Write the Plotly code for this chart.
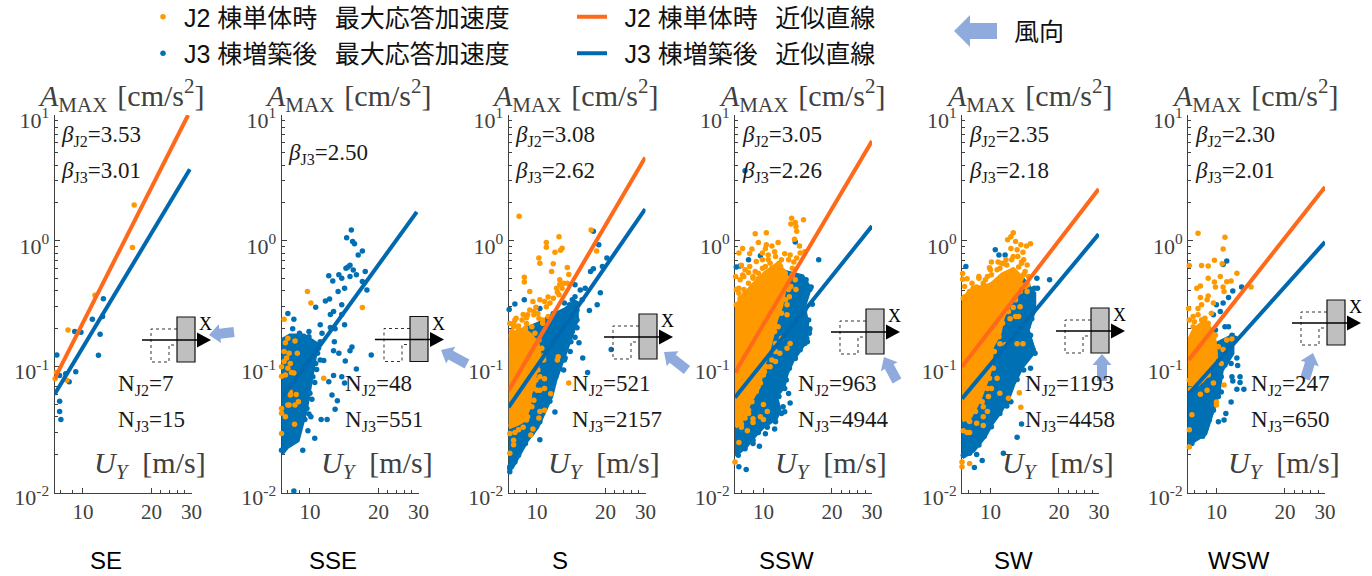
import plotly.graph_objects as go

W, H = 1372, 576
ORANGE = "#FF9900"
BLUE = "#0070B5"
ORANGE_LINE = "#FF6A1A"
BLUE_LINE = "#0068AE"
ARROW = "#8FAADC"
GREY = "#404040"

directions = ["SE", "SSE", "S", "SSW", "SW", "WSW"]
beta_j2 = ["3.53", None, "3.08", "3.05", "2.35", "2.30"]
beta_j3 = ["3.01", "2.50", "2.62", "2.26", "2.18", "2.01"]
n_j2 = [7, 48, 521, 963, 1193, 247]
n_j3 = [15, 551, 2157, 4944, 4458, 650]
x_ticks = [10, 20, 30]
x_minor = [8, 9, 22, 24, 26, 28]
y_ticks = [0.01, 0.1, 1, 10]
y_labels = ["10<sup>-2</sup>", "10<sup>-1</sup>", "10<sup>0</sup>", "10<sup>1</sup>"]
y_minor = [m * d for d in (0.01, 0.1, 1) for m in range(2, 10)]

# fitted lines: (U start, U end), (A start, A end)
fit_j2_u = [[7.5, 29], None, [7.5, 29.9], [7.5, 30], [7.5, 29.9], [7.55, 30]]
fit_j2_a = [[0.08, 10], None, [0.0645, 4.6], [0.09, 6.2], [0.1, 2.58], [0.113, 2.68]]
fit_j3_u = [[7.5, 29.5], [7.5, 29.5], [7.5, 29.9], [7.5, 30], [7.5, 29.9], [7.55, 30]]
fit_j3_a = [[0.06, 3.7], [0.0555, 1.7], [0.0475, 1.79], [0.057, 1.31], [0.0557, 1.13], [0.0606, 0.98]]

# ---- SE
se_j2_u = [16.8, 16.5, 11.3, 8.6, 8.5, 7.55, 7.65]
se_j2_a = [1.93, 0.885, 0.37, 0.196, 0.078, 0.08, 0.09]
se_j3_u = [7.68, 12.3, 11, 11.9, 11.7, 9.2, 9.8, 9.3, 8.4, 7.9, 8.7, 7.9, 7.9, 8.0, 12.2]
se_j3_a = [0.124, 0.346, 0.238, 0.181, 0.123, 0.19, 0.188, 0.091, 0.088, 0.085, 0.076, 0.053, 0.044, 0.038, 0.25]

# ---- SSE
sse_j2_u = [9.75, 10.1, 17, 7.7, 11.5, 8.56, 7.5, 8, 7.8, 8.6, 7.7, 8.1, 8.8, 7.9, 7.7, 8.2, 7.5, 8, 8.5, 8.3, 7.5, 7.8,
            8.2, 8.2, 8.7, 8, 8.6, 8.9, 7.5, 7.5, 7.8, 8.1]
sse_j2_a = [0.395, 0.32, 0.295, 0.238, 0.081, 0.0348, 0.0295, 0.168, 0.155, 0.16, 0.132, 0.128, 0.128, 0.117, 0.11,
            0.106, 0.1, 0.097, 0.089, 0.09, 0.084, 0.086, 0.063, 0.0595, 0.06, 0.0495, 0.0495, 0.0526, 0.0465, 0.0427, 0.04, 0.0495]
sse_j3_u = [15.2, 14.5, 15.4, 15.7, 17, 16.3, 15, 14.7, 14.4, 15.5, 16, 13.4, 12.1, 13.8, 15, 12.6, 17.5, 17, 17.8, 14.2,
            13.3, 12.2, 11.7, 13.8, 10.6, 8, 8.5, 12.7, 12.3, 13.8, 11.1, 8.4, 12.3, 12.9, 14.2, 9.9, 11.3, 12.8, 15.3, 15,
            18.6, 12.7, 13.4, 11.1, 11.5, 14.3, 16, 12.7, 13.8, 12.1, 14.2, 12.5, 13.2, 12.9, 10.1, 11.2, 11.9, 9.8, 10.5,
            9.3, 8.5,
            7.5, 7.8, 8.2, 8.9, 8.6, 9.7, 10, 10.3, 10.6, 10.8, 10.4, 11.1, 9.9, 9, 8.3, 7.7, 10.7, 10.5, 10.9, 10.2, 9.9, 9.5]
sse_j3_a = [1.22, 1.06, 0.99, 0.95, 0.83, 0.77, 0.64, 0.62, 0.606, 0.587, 0.537, 0.537, 0.527, 0.505, 0.52, 0.48, 0.57,
            0.475, 0.407, 0.42, 0.395, 0.345, 0.333, 0.31, 0.296, 0.265, 0.238, 0.274, 0.26, 0.26, 0.215, 0.2, 0.205, 0.2,
            0.215, 0.19, 0.184, 0.158, 0.143, 0.134, 0.124, 0.134, 0.128, 0.113, 0.112, 0.111, 0.096, 0.085, 0.083, 0.076,
            0.074, 0.0595, 0.0537, 0.0458, 0.04, 0.038, 0.038, 0.031, 0.027, 0.0217, 0.0103,
            0.0217, 0.026, 0.029, 0.0333, 0.0278, 0.0465, 0.0615, 0.083, 0.106, 0.128, 0.144, 0.158, 0.173, 0.184, 0.173, 0.163,
            0.095, 0.075, 0.14, 0.055, 0.042, 0.038]
sse_j3_cloud_u = [7.5, 7.9, 8.17, 9.4, 10.7, 10.4, 10.1, 9.8, 9.6, 9.2, 8.8, 7.9, 7.5]
sse_j3_cloud_a = [0.16, 0.17, 0.175, 0.175, 0.15, 0.113, 0.083, 0.065, 0.048, 0.0354, 0.026, 0.023, 0.0204]

# ---- S
s_j2_u = [8.35, 17.3, 12.5, 11, 11, 12.9, 12.7, 12, 10.2, 10.3, 11.8, 11.6, 18.3, 8.8, 8.8, 13.6, 13.8, 12.6, 12.6, 13.1,
          12.2, 12.3, 9.3, 11.2, 10.3, 9.6, 10.8, 9.9, 9.3, 8.7, 9, 9.7, 10.2, 10.6, 8, 7.6, 7.9, 8.3, 9, 10.7, 10.7, 12.4,
          12.3, 10.3, 10.8, 13.8, 10.3, 10.8, 11.5, 9.7, 10.8, 10.3, 10.2, 9.6, 9.4, 8, 7.9, 7.9, 7.6, 9,
          7.75, 8.3, 8.9, 9.5, 9.8, 10.2, 10.5, 10.3, 10.1, 9.9, 10, 9.7, 9.5, 9.1, 8.7, 8.3, 7.6,
          8.1, 8.6, 9.1, 9.7, 10.1, 11, 11.4, 11.8, 12.5, 12.9, 13.6, 10.6, 11.2, 7.9]
s_j2_a = [1.57, 1.22, 1.08, 0.97, 0.89, 0.874, 0.84, 0.81, 0.73, 0.664, 0.656, 0.57, 0.83, 0.514, 0.47, 0.614, 0.54, 0.49,
          0.45, 0.46, 0.42, 0.39, 0.395, 0.357, 0.34, 0.33, 0.33, 0.296, 0.282, 0.26, 0.245, 0.258, 0.242, 0.235, 0.235,
          0.22, 0.208, 0.21, 0.22, 0.122, 0.113, 0.12, 0.113, 0.083, 0.08, 0.074, 0.065, 0.067, 0.061, 0.067, 0.045, 0.044,
          0.039, 0.032, 0.0287, 0.03, 0.026, 0.024, 0.0205, 0.0377,
          0.19, 0.196, 0.202, 0.208, 0.184, 0.163, 0.14, 0.113, 0.094, 0.0785, 0.065, 0.054, 0.048, 0.04, 0.033, 0.0315, 0.0295,
          0.242, 0.235, 0.258, 0.274, 0.265, 0.3, 0.32, 0.35, 0.372, 0.42, 0.46, 0.221, 0.25, 0.221]
s_j2_cloud_u = [7.5, 7.9, 8.7, 9.3, 10, 10.2, 10, 9.7, 9.7, 9.3, 9.2, 8.7, 8.2, 7.6, 7.5]
s_j2_cloud_a = [0.17, 0.184, 0.196, 0.179, 0.153, 0.128, 0.1, 0.083, 0.0735, 0.0615, 0.048, 0.0377, 0.0354, 0.0332, 0.0332]
s_j3_u = [17.7, 18.7, 20.3, 19.4, 17.2, 17.7, 16.3, 14.7, 15.5, 14.7, 18.4, 17, 15.8, 13.9, 8.8, 7.55, 8, 10.3, 15, 14.7,
          15.3, 14, 15.9, 16.7, 13.1, 10.3, 12, 11.3, 21.2, 13.2, 14.7, 13.2, 7.6, 7.6, 19,
          15, 14.3, 14.1, 13.4, 13.3, 12.6, 12.1, 11.6, 11.5, 11.4, 10.7, 10.3, 9.5, 8.9, 8.3, 8, 7.6,
          10.7, 11.4, 12.3, 13.2, 13.8, 14.3, 15, 13.6, 11.8]
s_j3_a = [1.19, 0.93, 0.73, 0.625, 0.57, 0.6, 0.42, 0.447, 0.407, 0.36, 0.31, 0.28, 0.34, 0.31, 0.34, 0.285, 0.315, 0.29,
          0.204, 0.171, 0.155, 0.132, 0.117, 0.09, 0.094, 0.0263, 0.0437, 0.0545, 0.137, 0.113, 0.208, 0.184, 0.0146, 0.016, 0.386,
          0.235, 0.19, 0.158, 0.14, 0.117, 0.097, 0.083, 0.069, 0.061, 0.053, 0.047, 0.0365, 0.0295, 0.0245, 0.0198, 0.0175, 0.0155,
          0.196, 0.235, 0.235, 0.32, 0.265, 0.34, 0.282, 0.235, 0.265]
s_j3_cloud_u = [7.5, 8.5, 10.3, 11.5, 13.2, 14.9, 14.9, 13.8, 13.2, 12.6, 12, 11.5, 10.8, 10, 9, 8.4, 7.75, 7.5]
s_j3_cloud_a = [0.128, 0.19, 0.22, 0.25, 0.28, 0.329, 0.235, 0.163, 0.128, 0.1, 0.0785, 0.058, 0.0455, 0.0333, 0.026,
                0.0205, 0.016, 0.016]

# ---- SSW
ssw_j2_u = [13.3, 15, 13.8, 13.2, 13.9, 14, 13.7, 14.4, 14.5, 15.2, 9.2, 10.3, 9.5, 11.6, 10.3, 10.9, 10.2, 11.2, 8.1, 7.8,
            8.9, 8.7, 9.9, 10.5, 11.3, 12.4, 13.1, 14, 13.6, 7.55, 8, 8.1, 8.2, 8.6, 9.2, 9.5, 7.8, 7.6, 7.9, 8.3, 13.8, 13.9,
            12.7, 12.7, 12, 11.3, 13.1, 12.7, 11.3, 10.1, 9.7, 10.7, 10, 10.4, 9, 9, 9.7, 10, 8, 8.5, 8.6, 7.8, 7.5, 10.2, 11.8,
            8.3, 9, 9.9, 10.7, 11.9, 12.9, 12.9, 12.5, 12, 11.6, 11.2, 11.3, 10.9, 10.3, 10, 9.7, 9.3, 8.9, 8.6, 8.3, 8, 7.8,
            8.3, 8.7, 9.3, 9.9, 10.5, 11.7, 12, 12.9, 13.4, 10.2, 10.9, 9, 8.6, 8.2, 7.9, 7.8, 7.6, 9.5, 11.3, 13.4, 13.2, 13, 12.5]
ssw_j2_a = [1.51, 1.47, 1.4, 1.36, 1.3, 1.19, 1.03, 0.91, 0.8, 0.82, 1.14, 1.16, 0.97, 0.97, 0.93, 0.91, 0.87, 0.82, 0.87,
            0.8, 0.86, 0.79, 0.8, 0.77, 0.75, 0.79, 0.77, 0.73, 0.68, 0.52, 0.64, 0.536, 0.52, 0.56, 0.57, 0.5, 0.42, 0.41,
            0.35, 0.34, 0.49, 0.41, 0.31, 0.258, 0.168, 0.153, 0.153, 0.14, 0.11, 0.091, 0.103, 0.1, 0.05, 0.044, 0.0385,
            0.036, 0.04, 0.038, 0.035, 0.031, 0.0425, 0.025, 0.0175, 0.12, 0.128,
            0.383, 0.505, 0.606, 0.664, 0.625, 0.505, 0.41, 0.34, 0.266, 0.208, 0.19, 0.132, 0.113, 0.1, 0.086, 0.074, 0.0635,
            0.0527, 0.045, 0.039, 0.033, 0.035,
            0.588, 0.625, 0.685, 0.706, 0.706, 0.664, 0.706, 0.706, 0.606, 0.625, 0.606, 0.52, 0.46, 0.41, 0.49, 0.383, 0.31, 0.553,
            0.553, 0.536, 0.433, 0.36, 0.446]
ssw_j2_cloud_u = [7.5, 8, 9.2, 10.2, 11.5, 12.5, 12.3, 11.9, 11.3, 10.9, 10.5, 9.9, 9.5, 8.6, 8.2, 7.5]
ssw_j2_cloud_a = [0.282, 0.35, 0.46, 0.553, 0.644, 0.553, 0.41, 0.3, 0.235, 0.173, 0.136, 0.1, 0.0694, 0.051, 0.04, 0.0333]
ssw_j3_u = [17.5, 8.6, 7.9, 14.5, 16.2, 16.4, 16, 15.9, 15.6, 15.2, 13.1, 12.9, 12.4, 11.2, 10.2, 9.6, 8.4, 7.8, 9, 8.3, 9.7,
            13.8, 7.6,
            15.4, 16, 15, 15.2, 15.8, 15.9, 15.5, 14.5, 13.8, 13, 12.6, 12.4, 11.7, 12.2, 12, 11.3, 10.4, 9.5, 9, 8.3, 7.75]
ssw_j3_a = [0.706, 0.706, 0.63, 0.5, 0.43, 0.313, 0.2, 0.184, 0.158, 0.153, 0.0515, 0.0613, 0.0438, 0.032, 0.0293, 0.0233,
            0.0152, 0.016, 0.0245, 3.6, 0.76, 0.98, 0.62,
            0.49, 0.41, 0.35, 0.282, 0.235, 0.196, 0.168, 0.136, 0.116, 0.097, 0.0785, 0.067, 0.058, 0.048, 0.0425, 0.0365, 0.033,
            0.03, 0.026, 0.0223, 0.0198]
ssw_j3_cloud_u = [7.5, 12, 14.8, 15.9, 15, 15.5, 15.2, 13.4, 12.6, 12.2, 11.3, 11.7, 11.3, 9.9, 9, 8.3, 7.6, 7.5]
ssw_j3_cloud_a = [0.2, 0.57, 0.52, 0.42, 0.3, 0.22, 0.158, 0.113, 0.0885, 0.0694, 0.058, 0.0453, 0.039, 0.0333, 0.0277, 0.023,
                  0.0205, 0.0205]

# ---- SW
sw_j2_u = [12.6, 12.3, 11.9, 12.9, 13.6, 15, 14.4, 13.1, 13.9, 12.3, 10.1, 9.9, 10.8, 11.4, 13.7, 13.3, 14, 7.55, 7.55, 7.9,
           8.9, 9.5, 8.7, 14.6, 14.5, 12.6, 13.5, 12.2, 12.9, 13.3, 13.1, 13.9, 11, 11.6, 10.3, 10.7, 10.1, 11, 9.8, 12, 13.4,
           13.6, 9.3, 9.7, 9.3, 8.1, 8.7, 9.3, 7.6, 7.9, 8.1, 7.5, 8.1, 7.5,
           7.7, 8.4, 9.3, 10.1, 11, 11.7, 12.6, 13.7, 14.2, 13.7, 12.9, 12, 11.3, 10.9, 10.4, 10, 9.9, 9.7, 9.2, 8.6, 8,
           7.7, 8.3, 8.1, 8.9, 9.7, 10, 10.7, 11.2, 11.8, 12.4, 13.2, 14, 14.5, 14.7, 14.2, 13.5, 12.9, 7.6]
sw_j2_a = [1.16, 1.08, 1.02, 0.99, 0.93, 0.95, 0.91, 0.85, 0.81, 0.87, 0.68, 0.61, 0.68, 0.66, 0.68, 0.62, 0.54, 0.55, 0.495,
           0.5, 0.52, 0.49, 0.43, 0.447, 0.395, 0.295, 0.3, 0.24, 0.25, 0.25, 0.152, 0.152, 0.152, 0.149, 0.097, 0.081, 0.067,
           0.0615, 0.058, 0.056, 0.062, 0.0475, 0.048, 0.044, 0.04, 0.0366, 0.0355, 0.034, 0.031, 0.03, 0.03, 0.016, 0.017, 0.0175,
           0.36, 0.42, 0.46, 0.537, 0.606, 0.706, 0.75, 0.664, 0.57, 0.447, 0.34, 0.274, 0.221, 0.173, 0.132, 0.1, 0.081, 0.067,
           0.0526, 0.044, 0.0377,
           0.433, 0.46, 0.395, 0.505, 0.52, 0.588, 0.588, 0.664, 0.644, 0.706, 0.75, 0.706, 0.644, 0.52, 0.433, 0.395, 0.372, 0.35]
sw_j2_cloud_u = [7.5, 8.1, 8.9, 10.1, 11.3, 12.6, 13.7, 12.6, 11.3, 10.9, 10.1, 10, 9.7, 9.4, 8.9, 8.1, 7.5]
sw_j2_cloud_a = [0.32, 0.395, 0.42, 0.447, 0.537, 0.588, 0.505, 0.36, 0.25, 0.184, 0.144, 0.1, 0.083, 0.0695, 0.0546, 0.04, 0.0377]
sw_j3_u = [7.8, 10.5, 10.9, 11.6, 18.2, 16, 15.6, 16.1, 15, 15.7, 14, 15, 13.1, 13.7, 13.1, 11.4, 9.2, 8.5, 8.7, 11.8, 12.3,
           14.2, 15.2, 15.4, 15.2, 14.6, 15, 15.4, 14.2, 13.2, 12.6, 12.2, 12, 11, 10.1, 9.4, 8.9, 8.1, 7.6]
sw_j3_a = [0.625, 0.85, 0.77, 0.77, 0.49, 0.505, 0.42, 0.42, 0.178, 0.128, 0.094, 0.097, 0.079, 0.035, 0.0275, 0.0205, 0.018,
           0.0158, 0.02, 0.0486, 0.0526,
           0.42, 0.37, 0.31, 0.24, 0.208, 0.152, 0.136, 0.113, 0.094, 0.0785, 0.065, 0.0526, 0.0425, 0.0333, 0.028, 0.0238, 0.0205, 0.0198]
sw_j3_cloud_u = [7.5, 10.1, 13.7, 15.5, 15.5, 14.5, 15.5, 13.7, 12.6, 12, 11, 10.1, 9.4, 8.4, 7.5]
sw_j3_cloud_a = [0.25, 0.447, 0.505, 0.383, 0.282, 0.196, 0.132, 0.1, 0.0735, 0.058, 0.044, 0.0355, 0.028, 0.0217, 0.0192]

# ---- WSW
wsw_j2_u = [8.3, 10.9, 10.7, 9.8, 9.2, 8.6, 7.6, 10.6, 10.4, 12.3, 9.2, 9.8, 11.1, 11.6, 8.5, 8.2, 9.9, 10.7, 10.8, 14.2, 9.2,
            8.5, 9.1, 9.7, 7.55, 8.6, 8.3, 8.3, 7.9, 7.6, 8, 8.9, 9.5, 11.1, 11.7, 10.7, 10.5, 9.2, 10.8, 9.7, 10, 10, 8.5, 7.7,
            9.1, 7.8, 7.6, 7.6,
            7.9, 8.6, 9.2, 9.9, 10.2, 9.9, 9.5, 9.2, 8.6, 8, 7.6, 8.9, 8.3]
wsw_j2_a = [1.15, 1.07, 0.86, 0.7, 0.63, 0.636, 0.636, 0.656, 0.52, 0.553, 0.505, 0.47, 0.474, 0.48, 0.438, 0.42, 0.43, 0.43,
            0.395, 0.43, 0.365, 0.355, 0.34, 0.32, 0.29, 0.31, 0.29, 0.258, 0.25, 0.235, 0.228, 0.242, 0.266, 0.163, 0.166,
            0.137, 0.106, 0.086, 0.0715, 0.074, 0.0525, 0.0495, 0.0605, 0.066, 0.065, 0.0414, 0.0315, 0.023,
            0.208, 0.235, 0.221, 0.178, 0.144, 0.12, 0.106, 0.094, 0.078, 0.0716, 0.078, 0.144, 0.173]
wsw_j2_cloud_u = [7.5, 8, 8.9, 9.7, 9.9, 9.5, 8.9, 8.3, 7.5]
wsw_j2_cloud_a = [0.153, 0.196, 0.228, 0.178, 0.128, 0.1, 0.083, 0.0735, 0.0735]
wsw_j3_u = [11.1, 10.7, 11.8, 12.9, 11.3, 10.7, 10, 10.4, 9.7, 11.3, 10.9, 9.9, 12.3, 12.4, 11.6, 11.7, 12.7, 11.8, 12.7, 12.3,
            13.2, 10.5, 11.6, 11, 10.2, 10.8, 8.7, 7.8,
            9.7, 10.2, 11.2, 11.7, 12.1, 11.6, 10.9, 10.5, 10.2, 9.7, 9.3, 9, 8.6, 8, 7.8]
wsw_j3_a = [0.69, 0.65, 0.4, 0.43, 0.355, 0.32, 0.31, 0.274, 0.258, 0.208, 0.208, 0.196, 0.117, 0.102, 0.106, 0.083, 0.083,
            0.077, 0.075, 0.066, 0.066, 0.063, 0.0525, 0.0425, 0.0365, 0.0377, 0.028, 0.0255,
            0.113, 0.136, 0.153, 0.178, 0.168, 0.128, 0.103, 0.083, 0.058, 0.045, 0.0377, 0.0325, 0.0288, 0.027, 0.0245]
wsw_j3_cloud_u = [7.5, 9.5, 11.7, 11.7, 10.5, 10.2, 9.7, 9.2, 8.9, 8, 7.6, 7.5]
wsw_j3_cloud_a = [0.1, 0.144, 0.173, 0.128, 0.094, 0.065, 0.048, 0.0354, 0.0295, 0.0262, 0.0246, 0.0377]

j2_points = [(se_j2_u, se_j2_a), (sse_j2_u, sse_j2_a), (s_j2_u, s_j2_a), (ssw_j2_u, ssw_j2_a), (sw_j2_u, sw_j2_a), (wsw_j2_u, wsw_j2_a)]
j3_points = [(se_j3_u, se_j3_a), (sse_j3_u, sse_j3_a), (s_j3_u, s_j3_a), (ssw_j3_u, ssw_j3_a), (sw_j3_u, sw_j3_a), (wsw_j3_u, wsw_j3_a)]
j2_clouds = [None, None, (s_j2_cloud_u, s_j2_cloud_a), (ssw_j2_cloud_u, ssw_j2_cloud_a), (sw_j2_cloud_u, sw_j2_cloud_a), (wsw_j2_cloud_u, wsw_j2_cloud_a)]
j3_clouds = [None, (sse_j3_cloud_u, sse_j3_cloud_a), (s_j3_cloud_u, s_j3_cloud_a), (ssw_j3_cloud_u, ssw_j3_cloud_a), (sw_j3_cloud_u, sw_j3_cloud_a), (wsw_j3_cloud_u, wsw_j3_cloud_a)]

J2_PT = "J2 棟単体時\u2002\u2009最大応答加速度"
J3_PT = "J3 棟増築後\u2002\u2009最大応答加速度"
J2_LN = "\u2002J2 棟単体時\u2002\u2009近似直線"
J3_LN = "\u2002J3 棟増築後\u2002\u2009近似直線"

# layout in pixels
panel_left = [54.5, 281.5, 508.5, 735, 962, 1188]
panel_top, panel_bottom, panel_w = 115, 492.5, 137
gray_rect = [(177, 317), (410, 316.5), (639, 314), (866, 309), (1091, 308), (1327, 300)]
wind = [((234, 332), (209, 335)), ((467, 364), (441, 350)), ((687, 370), (664, 352)),
        ((897, 381), (884, 357)), ((1102, 381), (1102, 354)), ((1305, 379), (1313, 353))]
SERIF = "Liberation Serif, Times New Roman, serif"
SANS = "Liberation Sans, Noto Sans CJK JP, sans-serif"


def px(x):
    return x / W


def py(y):
    return 1 - y / H


fig = go.Figure()
shapes, notes = [], []


def note(x, y, text, size, color="#1a1a1a", family=SERIF, anchor="left"):
    notes.append(dict(x=px(x), y=py(y), xref="paper", yref="paper", text=text, showarrow=False, xanchor=anchor,
                      yanchor="middle", align="left", font=dict(size=size, color=color, family=family)))


def poly(pts, fill, line=None, width=1, dash=None):
    path = "M" + " L".join(f"{px(a):.5f},{py(b):.5f}" for a, b in pts)
    if fill:
        path += " Z"
    s = dict(type="path", xref="paper", yref="paper", path=path, line=dict(width=width if line else 0, color=line or "rgba(0,0,0,0)"))
    if fill:
        s["fillcolor"] = fill
    if dash:
        s["line"]["dash"] = dash
    shapes.append(s)


def wind_arrow(tail, tip, head_len, head_half, shaft_half):
    dx, dy = tip[0] - tail[0], tip[1] - tail[1]
    d = (dx * dx + dy * dy) ** 0.5
    ux, uy = dx / d, dy / d
    nx, ny = -uy, ux
    bx, by = tip[0] - ux * head_len, tip[1] - uy * head_len
    poly([tip, (bx + nx * head_half, by + ny * head_half), (bx + nx * shaft_half, by + ny * shaft_half),
          (tail[0] + nx * shaft_half, tail[1] + ny * shaft_half), (tail[0] - nx * shaft_half, tail[1] - ny * shaft_half),
          (bx - nx * shaft_half, by - ny * shaft_half), (bx - nx * head_half, by - ny * head_half)], ARROW)


for i, name in enumerate(directions):
    n = "" if i == 0 else str(i + 1)
    xa, ya = "x" + n, "y" + n
    L = panel_left[i]
    axis_common = dict(showgrid=False, zeroline=False, showline=True, linecolor=GREY, linewidth=1, ticks="inside",
                       tickcolor=GREY, ticklen=5, layer="below traces", automargin=False)
    fig.layout["xaxis" + n] = dict(
        axis_common, type="log", range=[0.875061, 1.477121], domain=[px(L), px(L + panel_w)], anchor=ya,
        tickmode="array", tickvals=x_ticks, ticktext=[str(v) for v in x_ticks],
        tickfont=dict(family=SERIF, size=21, color=GREY),
        minor=dict(tickmode="array", tickvals=x_minor, ticks="inside", ticklen=3, tickcolor=GREY, showgrid=False))
    fig.layout["yaxis" + n] = dict(
        axis_common, type="log", range=[-2, 1], domain=[py(panel_bottom), py(panel_top)], anchor=xa,
        tickmode="array", tickvals=y_ticks, ticktext=y_labels, ticklabelshift=5,
        tickfont=dict(family=SERIF, size=22, color=GREY),
        minor=dict(tickmode="array", tickvals=y_minor, ticks="inside", ticklen=3, tickcolor=GREY, showgrid=False))

    if j3_clouds[i]:
        fig.add_trace(go.Scatter(x=j3_clouds[i][0], y=j3_clouds[i][1], mode="lines", fill="toself", fillcolor=BLUE,
                                 line=dict(color=BLUE, width=5), showlegend=False, hoverinfo="skip", xaxis=xa, yaxis=ya,
                                 cliponaxis=False))
    fig.add_trace(go.Scatter(x=j3_points[i][0], y=j3_points[i][1], mode="markers", name=J3_PT, legendgroup="p3", legend="legend",
                             legendrank=2, showlegend=i == 0, marker=dict(color=BLUE, size=5.5), xaxis=xa, yaxis=ya, cliponaxis=False))
    if j2_clouds[i]:
        fig.add_trace(go.Scatter(x=j2_clouds[i][0], y=j2_clouds[i][1], mode="lines", fill="toself", fillcolor=ORANGE,
                                 line=dict(color=ORANGE, width=5), showlegend=False, hoverinfo="skip", xaxis=xa, yaxis=ya,
                                 cliponaxis=False))
    fig.add_trace(go.Scatter(x=j2_points[i][0], y=j2_points[i][1], mode="markers", name=J2_PT, legendgroup="p2", legend="legend",
                             legendrank=1, showlegend=i == 0, marker=dict(color=ORANGE, size=5.5), xaxis=xa, yaxis=ya, cliponaxis=False))
    fig.add_trace(go.Scatter(x=fit_j3_u[i], y=fit_j3_a[i], mode="lines", name=J3_LN, legendgroup="l3", legend="legend2", legendrank=2,
                             showlegend=i == 0, line=dict(color=BLUE_LINE, width=4), xaxis=xa, yaxis=ya, cliponaxis=False))
    if fit_j2_u[i]:
        fig.add_trace(go.Scatter(x=fit_j2_u[i], y=fit_j2_a[i], mode="lines", name=J2_LN, legendgroup="l2", legend="legend2", legendrank=1,
                                 showlegend=i == 0, line=dict(color=ORANGE_LINE, width=4), xaxis=xa, yaxis=ya, cliponaxis=False))

    # texts
    note(L - 18.5, 95, "<i>A</i><sub>MAX</sub> \u200a[cm/s<sup>2</sup>]", 30, GREY)
    note(L + 37.5, 465, "<i>U</i><sub><i>Y</i></sub>  [m/s]", 30, GREY)
    if beta_j2[i]:
        note(L + 4.5, 136, f"<i>β</i><sub>J2</sub>={beta_j2[i]}", 23)
        note(L + 4.5, 172, f"<i>β</i><sub>J3</sub>={beta_j3[i]}", 23)
    else:
        note(L + 4.5, 154, f"<i>β</i><sub>J3</sub>={beta_j3[i]}", 23)
    note(L + 61, 385, f"N<sub>J2</sub>={n_j2[i]}", 23)
    note(L + 61, 421, f"N<sub>J3</sub>={n_j3[i]}", 23)
    note(L + 51, 560, name, 24, "#000000", SANS, "center")

    # building icon
    rx, ry = gray_rect[i]
    poly([(rx, ry + 12), (rx - 26, ry + 12), (rx - 26, ry + 45), (rx - 8, ry + 45), (rx - 8, ry + 28), (rx, ry + 28)],
         None, "#333333", 1, "dot")
    shapes.append(dict(type="rect", xref="paper", yref="paper", x0=px(rx), x1=px(rx + 18), y0=py(ry), y1=py(ry + 45),
                       fillcolor="#BFBFBF", line=dict(color="#111111", width=1.2)))
    poly([(rx - 35, ry + 23), (rx + 22, ry + 23)], None, "#000000", 1.5)
    poly([(rx + 34, ry + 23), (rx + 20, ry + 15.5), (rx + 20, ry + 30.5)], "#000000")
    note(rx + 20, ry + 7, "X", 18, "#000000")
    wind_arrow(wind[i][0], wind[i][1], 11, 9.5, 5)

# wind-direction key
wind_arrow((997, 31), (954, 31), 16, 16, 8)
note(1012, 32, "風向", 25, "#111111", SANS)

fig.update_layout(
    width=W, height=H, autosize=False, margin=dict(l=0, r=0, t=0, b=0, autoexpand=False), template="none",
    paper_bgcolor="white", plot_bgcolor="rgba(0,0,0,0)",
    shapes=shapes, annotations=notes, hovermode=False,
    legend=dict(x=px(142), y=py(-6), xanchor="left", yanchor="top", tracegroupgap=1, itemwidth=32, bgcolor="rgba(0,0,0,0)",
                font=dict(family=SANS, size=25, color="#111111")),
    legend2=dict(x=px(572), y=py(-6), xanchor="left", yanchor="top", tracegroupgap=1, itemwidth=30, bgcolor="rgba(0,0,0,0)",
                 font=dict(family=SANS, size=25, color="#111111")),
)
fig.write_html("out.html", config={"displayModeBar": False},
               post_script="document.body.style.margin='0';document.body.style.overflow='hidden';")
